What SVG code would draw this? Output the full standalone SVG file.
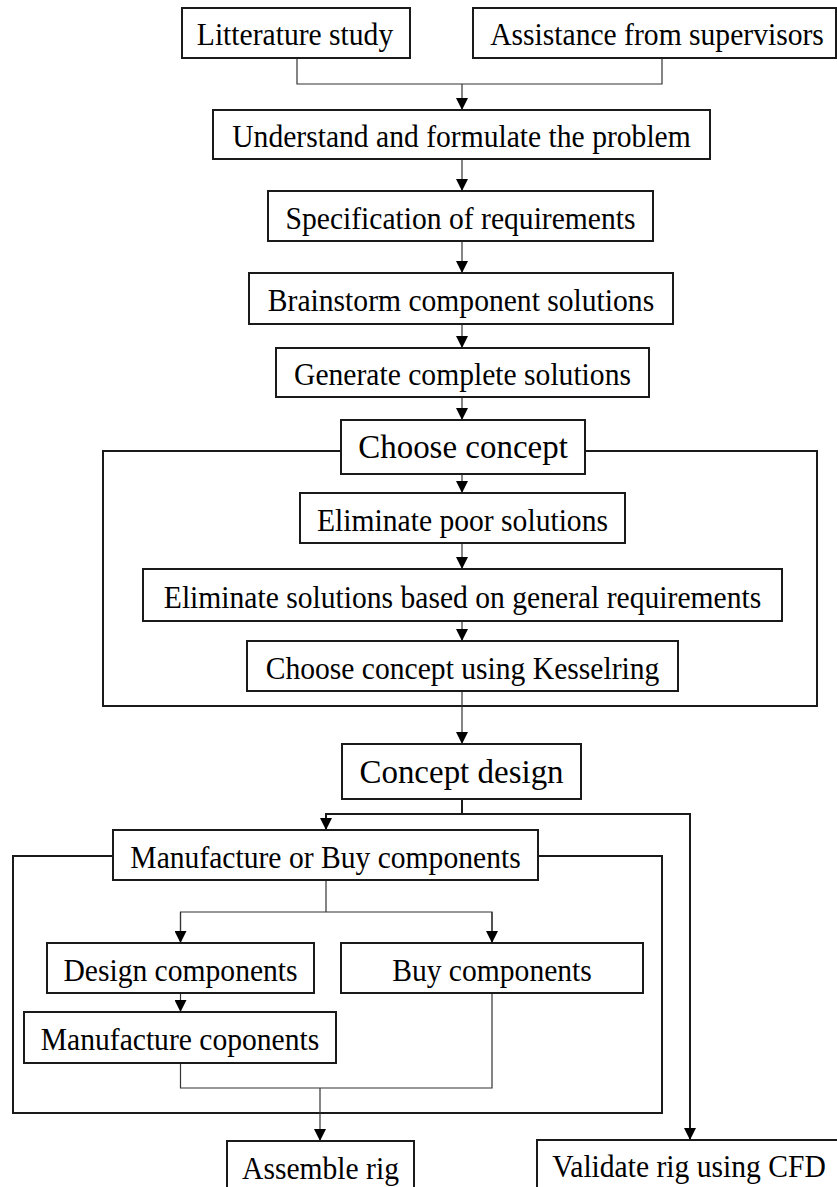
<svg xmlns="http://www.w3.org/2000/svg" width="837" height="1187" viewBox="0 0 837 1187">
<defs>
<style>
.box{fill:#fff;stroke:#1a1a1a;stroke-width:2}
.cont{fill:none;stroke:#1a1a1a;stroke-width:2}
.t{font-family:"Liberation Serif","Times New Roman",serif;font-size:32px;fill:#000;text-anchor:middle}
.tb{font-family:"Liberation Serif","Times New Roman",serif;font-size:34px;fill:#000;text-anchor:middle}
.c{fill:none;stroke:#333;stroke-width:1.2}
.ch{fill:none;stroke:#1a1a1a;stroke-width:2}
</style>
<marker id="arr" markerUnits="userSpaceOnUse" markerWidth="12" markerHeight="12" viewBox="0 0 12 12" refX="12" refY="6" orient="auto">
<path d="M0,0 L12,6 L0,12 z" fill="#000"/>
</marker>
</defs>
<rect width="837" height="1187" fill="#fff"/>

<g id="containers">
<rect id="container-choose" class="cont" x="103" y="451" width="714" height="255"/>
<rect id="container-manufacture" class="cont" x="13" y="856" width="649" height="257"/>
</g>

<g id="connectors">
<polyline class="c" points="297,58 297,84 662,84 662,58"/>
<line class="c" x1="462" y1="84" x2="462" y2="110" marker-end="url(#arr)"/>
<line class="c" x1="462" y1="159" x2="462" y2="191" marker-end="url(#arr)"/>
<line class="c" x1="462" y1="241" x2="462" y2="273" marker-end="url(#arr)"/>
<line class="c" x1="462" y1="324" x2="462" y2="348" marker-end="url(#arr)"/>
<line class="c" x1="462" y1="397" x2="462" y2="420" marker-end="url(#arr)"/>
<line class="c" x1="462" y1="474" x2="462" y2="493" marker-end="url(#arr)"/>
<line class="c" x1="462" y1="543" x2="462" y2="569" marker-end="url(#arr)"/>
<line class="c" x1="462" y1="621" x2="462" y2="641" marker-end="url(#arr)"/>
<line class="c" x1="462" y1="691" x2="462" y2="744" marker-end="url(#arr)"/>
<polyline class="ch" points="462,799 462,814"/>
<polyline class="ch" points="326,814 690,814"/>
<line class="ch" x1="326" y1="813" x2="326" y2="830" marker-end="url(#arr)"/>
<line class="ch" x1="690" y1="813" x2="690" y2="1140" marker-end="url(#arr)"/>
<line class="c" x1="326" y1="880" x2="326" y2="912"/>
<polyline class="c" points="180.5,943 180.5,912 492,912 492,943"/>
<line class="c" x1="180.5" y1="912" x2="180.5" y2="943" marker-end="url(#arr)"/>
<line class="c" x1="492" y1="912" x2="492" y2="943" marker-end="url(#arr)"/>
<line class="c" x1="180.5" y1="993" x2="180.5" y2="1012" marker-end="url(#arr)"/>
<polyline class="c" points="180.5,1063 180.5,1088 492,1088 492,993"/>
<line class="c" x1="320" y1="1088" x2="320" y2="1141" marker-end="url(#arr)"/>
</g>

<g id="n-litterature"><rect class="box" x="182" y="8" width="228" height="50"/><text class="t" transform="translate(295,45) scale(0.925,1)">Litterature study</text></g>
<g id="n-assistance"><rect class="box" x="473" y="8" width="363" height="50"/><text class="t" transform="translate(657,45) scale(0.925,1)">Assistance from supervisors</text></g>
<g id="n-understand"><rect class="box" x="213" y="110" width="497" height="49"/><text class="t" transform="translate(461.5,147) scale(0.925,1)">Understand and formulate the problem</text></g>
<g id="n-spec"><rect class="box" x="268" y="191" width="385" height="50"/><text class="t" transform="translate(460.5,228.5) scale(0.925,1)">Specification of requirements</text></g>
<g id="n-brainstorm"><rect class="box" x="249" y="273" width="424" height="51"/><text class="t" transform="translate(461,311) scale(0.925,1)">Brainstorm component solutions</text></g>
<g id="n-generate"><rect class="box" x="276" y="348" width="373" height="49"/><text class="t" transform="translate(462.5,385) scale(0.925,1)">Generate complete solutions</text></g>
<g id="n-choose"><rect class="box" x="341" y="420" width="244" height="54"/><text class="tb" transform="translate(463,457.5) scale(0.97,1)">Choose concept</text></g>
<g id="n-elim-poor"><rect class="box" x="300" y="493" width="325" height="50"/><text class="t" transform="translate(462.5,530.5) scale(0.925,1)">Eliminate poor solutions</text></g>
<g id="n-elim-general"><rect class="box" x="143" y="569" width="639" height="52"/><text class="t" transform="translate(462.5,607.5) scale(0.925,1)">Eliminate solutions based on general requirements</text></g>
<g id="n-kesselring"><rect class="box" x="247" y="641" width="431" height="50"/><text class="t" transform="translate(462.5,678.5) scale(0.925,1)">Choose concept using Kesselring</text></g>
<g id="n-concept-design"><rect class="box" x="342" y="744" width="239" height="55"/><text class="tb" transform="translate(461.5,782.5) scale(0.97,1)">Concept design</text></g>
<g id="n-mob"><rect class="box" x="113" y="830" width="425" height="50"/><text class="t" transform="translate(325.5,867.5) scale(0.925,1)">Manufacture or Buy components</text></g>
<g id="n-design"><rect class="box" x="47" y="943" width="267" height="50"/><text class="t" transform="translate(180.5,980.5) scale(0.925,1)">Design components</text></g>
<g id="n-buy"><rect class="box" x="341" y="943" width="302" height="50"/><text class="t" transform="translate(492,980.5) scale(0.925,1)">Buy components</text></g>
<g id="n-manufacture"><rect class="box" x="24" y="1012" width="312" height="51"/><text class="t" transform="translate(180,1050) scale(0.925,1)">Manufacture coponents</text></g>
<g id="n-assemble"><rect class="box" x="227" y="1141" width="187" height="60"/><text class="t" transform="translate(320.5,1179) scale(0.925,1)">Assemble rig</text></g>
<g id="n-validate"><rect class="box" x="537" y="1140" width="310" height="60"/><text class="t" transform="translate(689,1177) scale(0.925,1)">Validate rig using CFD</text></g>
</svg>
